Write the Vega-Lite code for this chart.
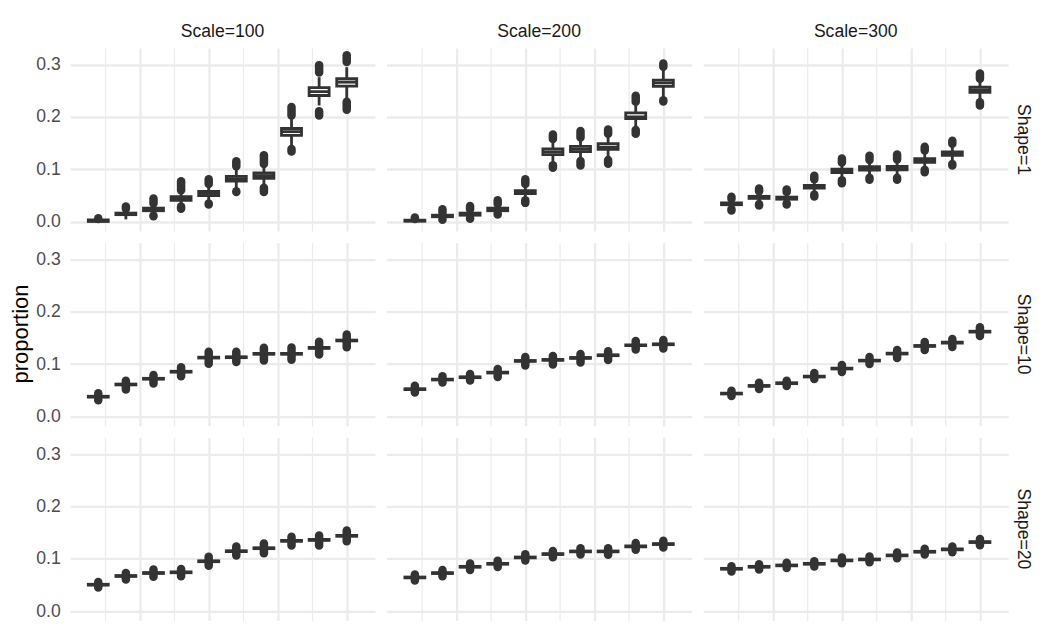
{
  "$schema": "https://vega.github.io/schema/vega-lite/v6.json",
  "background": "white",
  "padding": {"left": 9, "top": 23, "right": 5, "bottom": 5},
  "data": {"values": [
    {"s":1,"c":100,"x":0.1,"lo":0,"q1":0.0005,"md":0.002,"q3":0.0035,"hi":0.0045,"a1":null,"a2":null,"b1":0.005,"b2":0.0065},
    {"s":1,"c":100,"x":0.2,"lo":0.0045,"q1":0.0135,"md":0.015,"q3":0.0165,"hi":0.022,"a1":null,"a2":null,"b1":0.025,"b2":0.029},
    {"s":1,"c":100,"x":0.3,"lo":0.0145,"q1":0.021,"md":0.0235,"q3":0.026,"hi":0.032,"a1":0.0105,"a2":0.012,"b1":0.035,"b2":0.0445},
    {"s":1,"c":100,"x":0.4,"lo":0.031,"q1":0.041,"md":0.0445,"q3":0.048,"hi":0.058,"a1":0.0248,"a2":0.029,"b1":0.06,"b2":0.0775},
    {"s":1,"c":100,"x":0.5,"lo":0.038,"q1":0.05,"md":0.054,"q3":0.058,"hi":0.069,"a1":0.033,"a2":0.035,"b1":0.072,"b2":0.081},
    {"s":1,"c":100,"x":0.6,"lo":0.062,"q1":0.0775,"md":0.082,"q3":0.0865,"hi":0.101,"a1":0.0566,"a2":0.058,"b1":0.106,"b2":0.1157},
    {"s":1,"c":100,"x":0.7,"lo":0.068,"q1":0.083,"md":0.088,"q3":0.093,"hi":0.106,"a1":0.0566,"a2":0.065,"b1":0.11,"b2":0.127},
    {"s":1,"c":100,"x":0.8,"lo":0.146,"q1":0.165,"md":0.172,"q3":0.178,"hi":0.196,"a1":0.134,"a2":0.139,"b1":0.203,"b2":0.219},
    {"s":1,"c":100,"x":0.9,"lo":0.222,"q1":0.241,"md":0.2485,"q3":0.256,"hi":0.276,"a1":0.203,"a2":0.211,"b1":0.285,"b2":0.299},
    {"s":1,"c":100,"x":1.0,"lo":0.236,"q1":0.259,"md":0.2665,"q3":0.273,"hi":0.295,"a1":0.214,"a2":0.229,"b1":0.305,"b2":0.318},

    {"s":1,"c":200,"x":0.1,"lo":0,"q1":0.001,"md":0.002,"q3":0.003,"hi":0.004,"a1":null,"a2":null,"b1":0.005,"b2":0.0083},
    {"s":1,"c":200,"x":0.2,"lo":0.006,"q1":0.0095,"md":0.011,"q3":0.0125,"hi":0.017,"a1":0.004,"a2":0.0045,"b1":0.018,"b2":0.024},
    {"s":1,"c":200,"x":0.3,"lo":0.008,"q1":0.0125,"md":0.0146,"q3":0.0165,"hi":0.022,"a1":0.0057,"a2":0.007,"b1":0.024,"b2":0.03},
    {"s":1,"c":200,"x":0.4,"lo":0.016,"q1":0.021,"md":0.0235,"q3":0.026,"hi":0.032,"a1":0.014,"a2":0.0155,"b1":0.034,"b2":0.041},
    {"s":1,"c":200,"x":0.5,"lo":0.044,"q1":0.0535,"md":0.0566,"q3":0.0595,"hi":0.069,"a1":0.036,"a2":0.041,"b1":0.072,"b2":0.081},
    {"s":1,"c":200,"x":0.6,"lo":0.112,"q1":0.128,"md":0.1335,"q3":0.139,"hi":0.155,"a1":0.103,"a2":0.108,"b1":0.158,"b2":0.1666},
    {"s":1,"c":200,"x":0.7,"lo":0.119,"q1":0.134,"md":0.1386,"q3":0.144,"hi":0.157,"a1":0.1074,"a2":0.116,"b1":0.161,"b2":0.173},
    {"s":1,"c":200,"x":0.8,"lo":0.122,"q1":0.138,"md":0.1425,"q3":0.149,"hi":0.163,"a1":0.1106,"a2":0.118,"b1":0.168,"b2":0.176},
    {"s":1,"c":200,"x":0.9,"lo":0.18,"q1":0.197,"md":0.2003,"q3":0.208,"hi":0.222,"a1":0.168,"a2":0.175,"b1":0.229,"b2":0.2403},
    {"s":1,"c":200,"x":1.0,"lo":0.238,"q1":0.2585,"md":0.265,"q3":0.2705,"hi":0.29,"a1":0.2295,"a2":0.232,"b1":0.296,"b2":0.302},

    {"s":1,"c":300,"x":0.1,"lo":0.027,"q1":0.0325,"md":0.0343,"q3":0.036,"hi":0.041,"a1":0.0216,"a2":0.024,"b1":0.044,"b2":0.0477},
    {"s":1,"c":300,"x":0.2,"lo":0.037,"q1":0.0445,"md":0.0464,"q3":0.0485,"hi":0.055,"a1":0.031,"a2":0.034,"b1":0.058,"b2":0.0636},
    {"s":1,"c":300,"x":0.3,"lo":0.037,"q1":0.043,"md":0.045,"q3":0.047,"hi":0.054,"a1":0.033,"a2":0.035,"b1":0.057,"b2":0.0617},
    {"s":1,"c":300,"x":0.4,"lo":0.055,"q1":0.064,"md":0.0667,"q3":0.0695,"hi":0.078,"a1":0.048,"a2":0.052,"b1":0.081,"b2":0.0878},
    {"s":1,"c":300,"x":0.5,"lo":0.083,"q1":0.094,"md":0.0973,"q3":0.1005,"hi":0.11,"a1":0.0737,"a2":0.079,"b1":0.113,"b2":0.1208},
    {"s":1,"c":300,"x":0.6,"lo":0.088,"q1":0.0985,"md":0.1017,"q3":0.105,"hi":0.114,"a1":0.08,"a2":0.084,"b1":0.118,"b2":0.126},
    {"s":1,"c":300,"x":0.7,"lo":0.088,"q1":0.099,"md":0.1024,"q3":0.1055,"hi":0.115,"a1":0.08,"a2":0.084,"b1":0.119,"b2":0.1284},
    {"s":1,"c":300,"x":0.8,"lo":0.102,"q1":0.1135,"md":0.117,"q3":0.1205,"hi":0.132,"a1":0.0947,"a2":0.099,"b1":0.136,"b2":0.143},
    {"s":1,"c":300,"x":0.9,"lo":0.114,"q1":0.1265,"md":0.13,"q3":0.1335,"hi":0.145,"a1":0.1074,"a2":0.11,"b1":0.149,"b2":0.1545},
    {"s":1,"c":300,"x":1.0,"lo":0.231,"q1":0.247,"md":0.252,"q3":0.257,"hi":0.268,"a1":0.2218,"a2":0.228,"b1":0.273,"b2":0.283},

    {"s":10,"c":100,"x":0.1,"lo":0.0347,"q1":0.0369,"md":0.0377,"q3":0.0385,"hi":0.0407,"a1":0.031,"a2":0.0342,"b1":0.0412,"b2":0.0443},
    {"s":10,"c":100,"x":0.2,"lo":0.058,"q1":0.0602,"md":0.061,"q3":0.0618,"hi":0.064,"a1":0.0513,"a2":0.0575,"b1":0.0645,"b2":0.0683},
    {"s":10,"c":100,"x":0.3,"lo":0.069,"q1":0.0712,"md":0.072,"q3":0.0728,"hi":0.075,"a1":0.0627,"a2":0.0685,"b1":0.0755,"b2":0.0791},
    {"s":10,"c":100,"x":0.4,"lo":0.0824,"q1":0.0846,"md":0.0854,"q3":0.0862,"hi":0.0884,"a1":0.0766,"a2":0.0819,"b1":0.0889,"b2":0.0937},
    {"s":10,"c":100,"x":0.5,"lo":0.1093,"q1":0.1115,"md":0.1123,"q3":0.1131,"hi":0.1153,"a1":0.1006,"a2":0.1088,"b1":0.1158,"b2":0.1234},
    {"s":10,"c":100,"x":0.6,"lo":0.11,"q1":0.1122,"md":0.113,"q3":0.1138,"hi":0.116,"a1":0.1038,"a2":0.1095,"b1":0.1165,"b2":0.1234},
    {"s":10,"c":100,"x":0.7,"lo":0.1166,"q1":0.1188,"md":0.1196,"q3":0.1204,"hi":0.1226,"a1":0.107,"a2":0.1161,"b1":0.1231,"b2":0.131},
    {"s":10,"c":100,"x":0.8,"lo":0.1166,"q1":0.1188,"md":0.1196,"q3":0.1204,"hi":0.1226,"a1":0.1082,"a2":0.1161,"b1":0.1231,"b2":0.1316},
    {"s":10,"c":100,"x":0.9,"lo":0.128,"q1":0.1302,"md":0.131,"q3":0.1318,"hi":0.134,"a1":0.1184,"a2":0.1275,"b1":0.1345,"b2":0.1424},
    {"s":10,"c":100,"x":1.0,"lo":0.142,"q1":0.1442,"md":0.145,"q3":0.1458,"hi":0.148,"a1":0.1323,"a2":0.1415,"b1":0.1485,"b2":0.1563},

    {"s":10,"c":200,"x":0.1,"lo":0.049,"q1":0.0512,"md":0.052,"q3":0.0528,"hi":0.055,"a1":0.0456,"a2":0.0485,"b1":0.0555,"b2":0.0584},
    {"s":10,"c":200,"x":0.2,"lo":0.0674,"q1":0.0696,"md":0.0704,"q3":0.0712,"hi":0.0734,"a1":0.0646,"a2":0.0669,"b1":0.0739,"b2":0.0768},
    {"s":10,"c":200,"x":0.3,"lo":0.0718,"q1":0.074,"md":0.0748,"q3":0.0756,"hi":0.0778,"a1":0.0685,"a2":0.0713,"b1":0.0783,"b2":0.0812},
    {"s":10,"c":200,"x":0.4,"lo":0.0807,"q1":0.0829,"md":0.0837,"q3":0.0845,"hi":0.0867,"a1":0.0755,"a2":0.0802,"b1":0.0872,"b2":0.0907},
    {"s":10,"c":200,"x":0.5,"lo":0.103,"q1":0.1052,"md":0.106,"q3":0.1068,"hi":0.109,"a1":0.0971,"a2":0.1025,"b1":0.1095,"b2":0.1136},
    {"s":10,"c":200,"x":0.6,"lo":0.105,"q1":0.1072,"md":0.108,"q3":0.1088,"hi":0.111,"a1":0.099,"a2":0.1045,"b1":0.1115,"b2":0.1155},
    {"s":10,"c":200,"x":0.7,"lo":0.1087,"q1":0.1109,"md":0.1117,"q3":0.1125,"hi":0.1147,"a1":0.1028,"a2":0.1082,"b1":0.1152,"b2":0.1193},
    {"s":10,"c":200,"x":0.8,"lo":0.1138,"q1":0.116,"md":0.1168,"q3":0.1176,"hi":0.1198,"a1":0.1079,"a2":0.1133,"b1":0.1203,"b2":0.1244},
    {"s":10,"c":200,"x":0.9,"lo":0.1328,"q1":0.135,"md":0.1358,"q3":0.1366,"hi":0.1388,"a1":0.1276,"a2":0.1323,"b1":0.1393,"b2":0.1441},
    {"s":10,"c":200,"x":1.0,"lo":0.1347,"q1":0.1369,"md":0.1377,"q3":0.1385,"hi":0.1407,"a1":0.1295,"a2":0.1342,"b1":0.1412,"b2":0.146},

    {"s":10,"c":300,"x":0.1,"lo":0.0407,"q1":0.0429,"md":0.0437,"q3":0.0445,"hi":0.0467,"a1":0.0392,"a2":0.0402,"b1":0.0472,"b2":0.0488},
    {"s":10,"c":300,"x":0.2,"lo":0.0553,"q1":0.0575,"md":0.0583,"q3":0.0591,"hi":0.0613,"a1":0.0526,"a2":0.0548,"b1":0.0618,"b2":0.0641},
    {"s":10,"c":300,"x":0.3,"lo":0.0604,"q1":0.0626,"md":0.0634,"q3":0.0642,"hi":0.0664,"a1":0.0583,"a2":0.0599,"b1":0.0669,"b2":0.0679},
    {"s":10,"c":300,"x":0.4,"lo":0.0731,"q1":0.0753,"md":0.0761,"q3":0.0769,"hi":0.0791,"a1":0.0716,"a2":0.0726,"b1":0.0796,"b2":0.0831},
    {"s":10,"c":300,"x":0.5,"lo":0.0884,"q1":0.0906,"md":0.0914,"q3":0.0922,"hi":0.0944,"a1":0.085,"a2":0.0879,"b1":0.0949,"b2":0.0984},
    {"s":10,"c":300,"x":0.6,"lo":0.1036,"q1":0.1058,"md":0.1066,"q3":0.1074,"hi":0.1096,"a1":0.1002,"a2":0.1031,"b1":0.1101,"b2":0.1136},
    {"s":10,"c":300,"x":0.7,"lo":0.117,"q1":0.1192,"md":0.12,"q3":0.1208,"hi":0.123,"a1":0.1117,"a2":0.1165,"b1":0.1235,"b2":0.127},
    {"s":10,"c":300,"x":0.8,"lo":0.1316,"q1":0.1338,"md":0.1346,"q3":0.1354,"hi":0.1376,"a1":0.1269,"a2":0.1311,"b1":0.1381,"b2":0.1422},
    {"s":10,"c":300,"x":0.9,"lo":0.1379,"q1":0.1401,"md":0.1409,"q3":0.1417,"hi":0.1439,"a1":0.1326,"a2":0.1374,"b1":0.1444,"b2":0.1479},
    {"s":10,"c":300,"x":1.0,"lo":0.1589,"q1":0.1611,"md":0.1619,"q3":0.1627,"hi":0.1649,"a1":0.1536,"a2":0.1584,"b1":0.1654,"b2":0.1702},

    {"s":20,"c":100,"x":0.1,"lo":0.0475,"q1":0.0497,"md":0.0505,"q3":0.0513,"hi":0.0535,"a1":0.0453,"a2":0.047,"b1":0.054,"b2":0.0557},
    {"s":20,"c":100,"x":0.2,"lo":0.0641,"q1":0.0663,"md":0.0671,"q3":0.0679,"hi":0.0701,"a1":0.0606,"a2":0.0636,"b1":0.0706,"b2":0.0729},
    {"s":20,"c":100,"x":0.3,"lo":0.0698,"q1":0.072,"md":0.0728,"q3":0.0736,"hi":0.0758,"a1":0.0657,"a2":0.0693,"b1":0.0763,"b2":0.0793},
    {"s":20,"c":100,"x":0.4,"lo":0.0711,"q1":0.0733,"md":0.0741,"q3":0.0749,"hi":0.0771,"a1":0.0665,"a2":0.0706,"b1":0.0776,"b2":0.0805},
    {"s":20,"c":100,"x":0.5,"lo":0.0922,"q1":0.0944,"md":0.0952,"q3":0.096,"hi":0.0982,"a1":0.0868,"a2":0.0917,"b1":0.0987,"b2":0.1036},
    {"s":20,"c":100,"x":0.6,"lo":0.1114,"q1":0.1136,"md":0.1144,"q3":0.1152,"hi":0.1174,"a1":0.106,"a2":0.1109,"b1":0.1179,"b2":0.1234},
    {"s":20,"c":100,"x":0.7,"lo":0.1171,"q1":0.1193,"md":0.1201,"q3":0.1209,"hi":0.1231,"a1":0.1105,"a2":0.1166,"b1":0.1236,"b2":0.1291},
    {"s":20,"c":100,"x":0.8,"lo":0.1312,"q1":0.1334,"md":0.1342,"q3":0.135,"hi":0.1372,"a1":0.1252,"a2":0.1307,"b1":0.1377,"b2":0.1419},
    {"s":20,"c":100,"x":0.9,"lo":0.1331,"q1":0.1353,"md":0.1361,"q3":0.1369,"hi":0.1391,"a1":0.1252,"a2":0.1326,"b1":0.1396,"b2":0.1445},
    {"s":20,"c":100,"x":1.0,"lo":0.1408,"q1":0.143,"md":0.1438,"q3":0.1446,"hi":0.1468,"a1":0.1335,"a2":0.1403,"b1":0.1473,"b2":0.1541},

    {"s":20,"c":200,"x":0.1,"lo":0.0613,"q1":0.0635,"md":0.0643,"q3":0.0651,"hi":0.0673,"a1":0.0585,"a2":0.0608,"b1":0.0678,"b2":0.07},
    {"s":20,"c":200,"x":0.2,"lo":0.0696,"q1":0.0718,"md":0.0726,"q3":0.0734,"hi":0.0756,"a1":0.0668,"a2":0.0691,"b1":0.0761,"b2":0.0784},
    {"s":20,"c":200,"x":0.3,"lo":0.0817,"q1":0.0839,"md":0.0847,"q3":0.0855,"hi":0.0877,"a1":0.0787,"a2":0.0812,"b1":0.0882,"b2":0.0907},
    {"s":20,"c":200,"x":0.4,"lo":0.0874,"q1":0.0896,"md":0.0904,"q3":0.0912,"hi":0.0934,"a1":0.0844,"a2":0.0869,"b1":0.0939,"b2":0.0964},
    {"s":20,"c":200,"x":0.5,"lo":0.0995,"q1":0.1017,"md":0.1025,"q3":0.1033,"hi":0.1055,"a1":0.0965,"a2":0.099,"b1":0.106,"b2":0.1085},
    {"s":20,"c":200,"x":0.6,"lo":0.1059,"q1":0.1081,"md":0.1089,"q3":0.1097,"hi":0.1119,"a1":0.1029,"a2":0.1054,"b1":0.1124,"b2":0.1149},
    {"s":20,"c":200,"x":0.7,"lo":0.111,"q1":0.1132,"md":0.114,"q3":0.1148,"hi":0.117,"a1":0.108,"a2":0.1105,"b1":0.1175,"b2":0.12},
    {"s":20,"c":200,"x":0.8,"lo":0.111,"q1":0.1132,"md":0.114,"q3":0.1148,"hi":0.117,"a1":0.1078,"a2":0.1105,"b1":0.1175,"b2":0.1202},
    {"s":20,"c":200,"x":0.9,"lo":0.1206,"q1":0.1228,"md":0.1236,"q3":0.1244,"hi":0.1266,"a1":0.1173,"a2":0.1201,"b1":0.1271,"b2":0.1299},
    {"s":20,"c":200,"x":1.0,"lo":0.125,"q1":0.1272,"md":0.128,"q3":0.1288,"hi":0.131,"a1":0.1215,"a2":0.1245,"b1":0.1315,"b2":0.1345},

    {"s":20,"c":300,"x":0.1,"lo":0.0779,"q1":0.0801,"md":0.0809,"q3":0.0817,"hi":0.0839,"a1":0.0759,"a2":0.0774,"b1":0.0844,"b2":0.0859},
    {"s":20,"c":300,"x":0.2,"lo":0.0817,"q1":0.0839,"md":0.0847,"q3":0.0855,"hi":0.0877,"a1":0.0797,"a2":0.0812,"b1":0.0882,"b2":0.0897},
    {"s":20,"c":300,"x":0.3,"lo":0.0843,"q1":0.0865,"md":0.0873,"q3":0.0881,"hi":0.0903,"a1":0.0823,"a2":0.0838,"b1":0.0908,"b2":0.0923},
    {"s":20,"c":300,"x":0.4,"lo":0.0874,"q1":0.0896,"md":0.0904,"q3":0.0912,"hi":0.0934,"a1":0.0854,"a2":0.0869,"b1":0.0939,"b2":0.0954},
    {"s":20,"c":300,"x":0.5,"lo":0.0938,"q1":0.096,"md":0.0968,"q3":0.0976,"hi":0.0998,"a1":0.0913,"a2":0.0933,"b1":0.1003,"b2":0.1023},
    {"s":20,"c":300,"x":0.6,"lo":0.0957,"q1":0.0979,"md":0.0987,"q3":0.0995,"hi":0.1017,"a1":0.0932,"a2":0.0952,"b1":0.1022,"b2":0.1042},
    {"s":20,"c":300,"x":0.7,"lo":0.1034,"q1":0.1056,"md":0.1064,"q3":0.1072,"hi":0.1094,"a1":0.1009,"a2":0.1029,"b1":0.1099,"b2":0.1119},
    {"s":20,"c":300,"x":0.8,"lo":0.1104,"q1":0.1126,"md":0.1134,"q3":0.1142,"hi":0.1164,"a1":0.1079,"a2":0.1099,"b1":0.1169,"b2":0.1189},
    {"s":20,"c":300,"x":0.9,"lo":0.1148,"q1":0.117,"md":0.1178,"q3":0.1186,"hi":0.1208,"a1":0.1123,"a2":0.1143,"b1":0.1213,"b2":0.1233},
    {"s":20,"c":300,"x":1.0,"lo":0.1288,"q1":0.131,"md":0.1318,"q3":0.1326,"hi":0.1348,"a1":0.1258,"a2":0.1283,"b1":0.1353,"b2":0.1378}
  ]},
  "facet": {
    "column": {"field": "c", "type": "ordinal", "sort": [100, 200, 300],
      "header": {"title": null, "labelExpr": "'Scale=' + datum.value", "labelFont": "Liberation Sans", "labelFontSize": 17.6, "labelColor": "#1a1a1a", "labelPadding": 7}},
    "row": {"field": "s", "type": "ordinal", "sort": [1, 10, 20],
      "header": {"title": "proportion", "titleOrient": "left", "titleAngle": -90, "titleFont": "Liberation Sans", "titleFontSize": 22, "titleFontWeight": "normal", "titleColor": "#000000", "titlePadding": -30,
        "labelExpr": "'Shape=' + datum.value", "labelOrient": "right", "labelAngle": 90, "labelFont": "Liberation Sans", "labelFontSize": 17.6, "labelColor": "#1a1a1a", "labelPadding": 5.5}}
  },
  "spacing": {"row": 11.7, "column": 11.6},
  "spec": {
    "width": 305,
    "height": 183,
    "encoding": {
      "x": {"field": "x", "type": "quantitative",
        "scale": {"domain": [0.0157, 1.0843], "nice": false, "zero": false},
        "axis": {"title": null, "labels": false, "ticks": false, "domain": false,
          "values": [0.125, 0.25, 0.375, 0.5, 0.625, 0.75, 0.875, 1],
          "gridColor": "#ebebeb",
          "gridWidth": {"condition": {"test": "indexof([0.25, 0.5, 0.75, 1], datum.value) >= 0", "value": 2.3}, "value": 1.2}}}
    },
    "layer": [
      {"mark": {"type": "rule", "color": "#333333", "strokeWidth": 2.8},
       "encoding": {
         "y": {"field": "lo", "type": "quantitative", "title": null,
           "scale": {"domain": [-0.0177, 0.3317], "nice": false, "zero": false},
           "axis": {"title": null, "values": [0, 0.05, 0.1, 0.15, 0.2, 0.25, 0.3],
             "labelExpr": "indexof([0, 0.1, 0.2, 0.3], datum.value) >= 0 ? format(datum.value, '.1f') : ''",
             "ticks": false, "domain": false, "labelPadding": 9.7, "labelFlush": false,
             "labelFont": "Liberation Sans", "labelFontSize": 17.6, "labelColor": "#4d4d4d",
             "gridColor": "#ebebeb",
             "gridWidth": {"condition": {"test": "indexof([0, 0.1, 0.2, 0.3], datum.value) >= 0", "value": 2.3}, "value": 1.2}}},
         "y2": {"field": "hi"}}},
      {"mark": {"type": "bar", "width": 20, "fill": "#ffffff", "stroke": "#333333", "strokeWidth": 2.8},
       "encoding": {"y": {"field": "q1", "type": "quantitative", "title": null}, "y2": {"field": "q3"}}},
      {"mark": {"type": "tick", "orient": "horizontal", "size": 20, "thickness": 2.8, "color": "#333333", "opacity": 1},
       "encoding": {"y": {"field": "md", "type": "quantitative", "title": null}}},
      {"mark": {"type": "rule", "color": "#333333", "strokeWidth": 8.5, "strokeCap": "round"},
       "encoding": {"y": {"field": "a1", "type": "quantitative", "title": null}, "y2": {"field": "a2"}}},
      {"mark": {"type": "rule", "color": "#333333", "strokeWidth": 8.5, "strokeCap": "round"},
       "encoding": {"y": {"field": "b1", "type": "quantitative", "title": null}, "y2": {"field": "b2"}}}
    ]
  },
  "config": {
    "view": {"stroke": null},
    "font": "Liberation Sans"
  }
}
